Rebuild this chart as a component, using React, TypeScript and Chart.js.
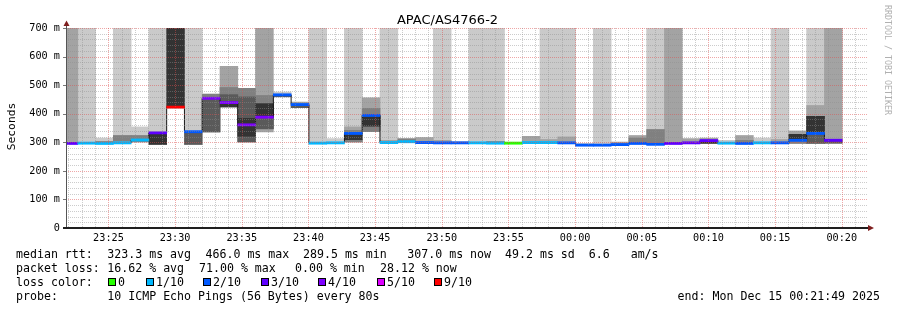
import React, { useEffect, useRef } from 'react';
import { Chart, registerables } from 'chart.js';
Chart.register(...registerables);

type R = [number, number] | null;
const _: R = null;

const TITLE = 'APAC/AS4766-2';
const Y_LABEL = 'Seconds';
const WATERMARK = 'RRDTOOL / TOBI OETIKER';

// time axis: seconds relative to 23:25:00, one step = 80 s (10 pings every 80s)
const STEP_S = 80;
const FIRST_STEP_START_S = -218;
const X_MIN_S = -191;
const X_MAX_S = 3409;
const TICK_SECONDS = [0, 300, 600, 900, 1200, 1500, 1800, 2100, 2400, 2700, 3000, 3300];
const Y_TICKS = [0, 100, 200, 300, 400, 500, 600, 700];

// median RTT per step (ms), steps k = -1 .. 42
const MEDIAN_MS = [
  296, 297, 296, 298, 308, 333, 423, 337, 454, 439, 361,
  388, 466, 432, 297, 298, 331, 394, 299, 302, 299, 298,
  298, 298, 297, 297, 299, 299, 298, 290, 290, 292, 296,
  293, 296, 298, 306, 297, 296, 298, 298, 307, 331, 307,
];
// packet loss per step (tenths)
const LOSS_TENTHS = [
  3, 1, 1, 1, 1, 3, 9, 2, 4, 4, 4,
  4, 2, 2, 1, 1, 2, 2, 1, 1, 2, 2,
  2, 1, 1, 0, 1, 1, 2, 2, 2, 2, 2,
  2, 3, 3, 3, 1, 2, 1, 2, 2, 2, 3,
];
// smoke layers (ms ranges), outermost/lightest first
const SMOKE_1: R[] = [
  _, [297, 700], [300, 316], [300, 700], [300, 355], [333, 700], _, [337, 700], _, _, _,
  _, [458, 477], _, [298, 700], [300, 314], [300, 700], _, [300, 700], _, _, [300, 700],
  _, [298, 700], [298, 700], _, _, [299, 700], [298, 700], _, [290, 700], _, _,
  [293, 700], _, _, _, [297, 308], _, [298, 316], [298, 700], _, [295, 700], _,
];
const SMOKE_2: R[] = [
  [296, 700], _, _, _, _, _, _, _, _, [425, 567], _,
  [335, 700], _, [420, 442], _, _, [300, 355], [336, 457], [300, 308], _, [300, 318], [300, 308],
  [298, 303], _, _, _, [300, 322], [299, 311], [298, 320], [290, 296], _, [292, 302], [296, 325],
  _, [295, 700], [298, 314], [295, 316], _, [296, 325], _, [298, 311], [295, 341], [295, 430], [305, 700],
];
const SMOKE_3: R[] = [
  _, _, [299, 304], [302, 325], [300, 325], _, _, _, [334, 470], [425, 493], [300, 490],
  [346, 465], _, _, _, _, [300, 343], [336, 420], _, [302, 314], _, _,
  _, _, [298, 304], _, _, _, _, _, _, _, [296, 316],
  [296, 346], _, _, _, _, [296, 308], _, _, [295, 329], _, _,
];
const SMOKE_4: R[] = [
  _, _, _, _, _, _, _, [291, 337], [336, 452], [425, 468], [300, 460],
  [346, 436], [458, 466], [420, 432], _, _, _, _, _, _, _, _,
  _, _, _, _, _, _, _, _, _, _, _,
  _, _, _, _, _, _, _, _, _, [295, 392], [295, 307],
];
const SMOKE_5: R[] = [
  _, _, _, _, _, [291, 333], [423, 700], _, _, [422, 439], [320, 385],
  [385, 436], _, _, _, _, [308, 331], [355, 394], _, _, _, _,
  _, _, _, _, _, _, _, _, _, _, _,
  _, _, _, [295, 306], _, _, _, _, [307, 329], [331, 392], _,
];

const LOSS_LEGEND = [0, 1, 2, 3, 4, 5, 9];
const LOSS_LEGEND_LABELS = ['0', '1/10', '2/10', '3/10', '4/10', '5/10', '9/10'];

const STAT_ROW_1: [number, string][] = [
  [16, 'median rtt:'],
  [107.3, '323.3 ms avg'],
  [205.5, '466.0 ms max'],
  [303, '289.5 ms min'],
  [407.3, '307.0 ms now  49.2 ms sd  6.6   am/s'],
];
const STAT_ROW_2: [number, string][] = [
  [16, 'packet loss:'],
  [107.3, '16.62 % avg'],
  [199, '71.00 % max'],
  [295, '0.00 % min'],
  [380, '28.12 % now'],
];
const PROBE_TEXT = '10 ICMP Echo Pings (56 Bytes) every 80s';
const END_TEXT = 'end: Mon Dec 15 00:21:49 2025';

// styles
const LOSS_COLOR: Record<number, string> = {
  0: '#26ff00', 1: '#00b8ff', 2: '#0059ff', 3: '#5e00ff', 4: '#7e00ff', 5: '#dd00ff', 9: '#ff0000',
};
const SMOKE_COLORS = ['#cacaca', '#a3a3a3', '#808080', '#5a5a5a', '#333333'];
const MONO = "'DejaVu Sans Mono', monospace";
const LEGEND_SQUARE_X = [108, 146, 203, 261, 318, 377, 434];

function fmtTime(t: number): string {
  let m = Math.round(23 * 60 + 25 + t / 60);
  m = ((m % 1440) + 1440) % 1440;
  const hh = Math.floor(m / 60);
  const mm = m % 60;
  return `${String(hh).padStart(2, '0')}:${String(mm).padStart(2, '0')}`;
}

const extras = {
  id: 'smokeExtras',
  beforeDraw(chart: any) {
    const ctx = chart.ctx;
    ctx.save();
    ctx.fillStyle = '#ffffff';
    ctx.fillRect(0, 0, chart.width, chart.height);
    ctx.restore();
  },
  afterDatasetsDraw(chart: any) {
    const ctx: CanvasRenderingContext2D = chart.ctx;
    const a = chart.chartArea;
    const xs = chart.scales.x;
    const ys = chart.scales.y;
    ctx.save();
    ctx.lineWidth = 1;
    ctx.setLineDash([1, 1]);
    // horizontal grid
    for (let v = 20; v <= 700; v += 20) {
      const y = Math.round(ys.getPixelForValue(v)) + 0.5;
      ctx.strokeStyle = v % 100 === 0 ? 'rgba(222,80,80,0.5)' : 'rgba(143,143,143,0.45)';
      ctx.beginPath();
      ctx.moveTo(a.left, y);
      ctx.lineTo(a.right + 2, y);
      ctx.stroke();
    }
    // vertical grid
    for (let t = -180; t <= X_MAX_S; t += 60) {
      const x = Math.round(xs.getPixelForValue(t)) + 0.5;
      if (x <= a.left + 1) continue;
      ctx.strokeStyle = t % 300 === 0 ? 'rgba(222,80,80,0.5)' : 'rgba(143,143,143,0.45)';
      ctx.beginPath();
      ctx.moveTo(x, a.top);
      ctx.lineTo(x, a.bottom);
      ctx.stroke();
    }
    ctx.setLineDash([]);
    // y ticks
    ctx.strokeStyle = '#777';
    for (const v of Y_TICKS) {
      const y = Math.round(ys.getPixelForValue(v)) + 0.5;
      ctx.beginPath();
      ctx.moveTo(a.left - 3, y);
      ctx.lineTo(a.left, y);
      ctx.stroke();
    }
    // axes
    ctx.strokeStyle = '#555';
    ctx.beginPath();
    ctx.moveTo(a.left + 0.5, a.bottom);
    ctx.lineTo(a.left + 0.5, a.top - 3);
    ctx.stroke();
    ctx.fillStyle = '#1f1f1f';
    ctx.fillRect(a.left - 3, a.bottom - 1, a.right - a.left + 5, 2);
    // arrows
    ctx.fillStyle = '#7f1f1f';
    ctx.beginPath();
    ctx.moveTo(a.left + 0.5, a.top - 7.5);
    ctx.lineTo(a.left - 2.5, a.top - 2);
    ctx.lineTo(a.left + 3.5, a.top - 2);
    ctx.closePath();
    ctx.fill();
    ctx.beginPath();
    ctx.moveTo(a.right + 8, a.bottom);
    ctx.lineTo(a.right + 2, a.bottom - 3);
    ctx.lineTo(a.right + 2, a.bottom + 3);
    ctx.closePath();
    ctx.fill();
    ctx.restore();
  },
  afterDraw(chart: any) {
    const ctx: CanvasRenderingContext2D = chart.ctx;
    ctx.save();
    ctx.fillStyle = '#000';
    ctx.textBaseline = 'alphabetic';
    // title
    ctx.font = "13px 'DejaVu Sans', sans-serif";
    ctx.textAlign = 'center';
    ctx.fillText(TITLE, 447.5, 24);
    // y label
    ctx.save();
    ctx.font = `11.3px ${MONO}`;
    ctx.translate(15, 126.5);
    ctx.rotate(-Math.PI / 2);
    ctx.textAlign = 'center';
    ctx.fillText(Y_LABEL, 0, 0);
    ctx.restore();
    // watermark
    ctx.save();
    ctx.font = `8.3px ${MONO}`;
    ctx.fillStyle = '#b0b0b0';
    ctx.translate(885, 5);
    ctx.rotate(Math.PI / 2);
    ctx.textAlign = 'left';
    ctx.fillText(WATERMARK, 0, 0);
    ctx.restore();
    // legend rows
    ctx.font = `11.6px ${MONO}`;
    ctx.textAlign = 'left';
    for (const [x, s] of STAT_ROW_1) ctx.fillText(s, x, 257.5);
    for (const [x, s] of STAT_ROW_2) ctx.fillText(s, x, 271.5);
    ctx.fillText('loss color:', 16, 285.5);
    LOSS_LEGEND.forEach((l, i) => {
      const x = LEGEND_SQUARE_X[i];
      ctx.fillStyle = '#000';
      ctx.fillRect(x, 278, 8, 8);
      ctx.fillStyle = LOSS_COLOR[l];
      ctx.fillRect(x + 1, 279, 6, 6);
      ctx.fillStyle = '#000';
      ctx.fillText(LOSS_LEGEND_LABELS[i], x + 10, 285.5);
    });
    ctx.fillText('probe:', 16, 299.5);
    ctx.fillText(PROBE_TEXT, 107.3, 299.5);
    ctx.textAlign = 'right';
    ctx.fillText(END_TEXT, 880, 299.5);
    ctx.restore();
  },
};

export default function App() {
  const ref = useRef<HTMLCanvasElement>(null);
  useEffect(() => {
    document.body.style.margin = '0';
    const centers = MEDIAN_MS.map((_m, i) => FIRST_STEP_START_S + STEP_S * i + STEP_S / 2);
    const layer = (arr: R[], color: string, order: number) => ({
      type: 'bar' as const,
      data: arr
        .map((r, i) => (r ? { x: centers[i], y: r } : null))
        .filter((p) => p !== null),
      backgroundColor: color,
      borderWidth: 0,
      grouped: false,
      barPercentage: 1.04,
      categoryPercentage: 1,
      order,
      clip: 0,
    });
    const smokeSets = [SMOKE_1, SMOKE_2, SMOKE_3, SMOKE_4, SMOKE_5].map((arr, i) =>
      layer(arr, SMOKE_COLORS[i], 10 - i)
    );
    const medianBars = {
      type: 'bar' as const,
      data: MEDIAN_MS.map((m, i) => ({ x: centers[i], y: [m - 5, m + 5] })),
      backgroundColor: LOSS_TENTHS.map((l) => LOSS_COLOR[l]),
      borderWidth: 0,
      grouped: false,
      barPercentage: 1.04,
      categoryPercentage: 1,
      order: 1,
      clip: 0,
    };
    const medianLine = {
      type: 'line' as const,
      data: MEDIAN_MS.map((m, i) => ({ x: centers[i], y: m })),
      stepped: 'middle' as const,
      borderColor: '#1a1a1a',
      borderWidth: 1,
      pointRadius: 0,
      fill: false,
      order: 2,
      clip: 0,
    };
    const tickFont = { family: MONO, size: 10.2 };
    const chart = new Chart(ref.current!, {
      type: 'bar',
      data: { datasets: [...smokeSets, medianLine, medianBars] as any },
      options: {
        responsive: false,
        devicePixelRatio: 1,
        animation: false,
        events: [],
        layout: { padding: { left: 0, right: 31, top: 28, bottom: 0 } },
        plugins: { legend: { display: false }, title: { display: false }, tooltip: { enabled: false } },
        scales: {
          x: {
            type: 'linear',
            min: X_MIN_S,
            max: X_MAX_S,
            offset: false,
            grid: { display: false, drawTicks: false },
            border: { display: false },
            ticks: {
              font: tickFont,
              color: '#000',
              padding: 4,
              maxRotation: 0,
              autoSkip: false,
              callback: (v: any) => fmtTime(Number(v)),
            },
            afterBuildTicks: (s: any) => {
              s.ticks = TICK_SECONDS.map((v) => ({ value: v }));
            },
            afterFit: (s: any) => {
              s.height = 82;
            },
          },
          y: {
            type: 'linear',
            min: 0,
            max: 700,
            grid: { display: false, drawTicks: false },
            border: { display: false },
            ticks: {
              font: tickFont,
              color: '#000',
              padding: 6,
              stepSize: 100,
              callback: (v: any) => (Number(v) === 0 ? '0' : `${v} m`),
            },
            afterBuildTicks: (s: any) => {
              s.ticks = Y_TICKS.map((v) => ({ value: v }));
            },
            afterFit: (s: any) => {
              s.width = 66;
            },
          },
        },
      } as any,
      plugins: [extras],
    });
    return () => chart.destroy();
  }, []);
  return (
    <div style={{ position: 'absolute', left: 0, top: 0, width: 897, height: 310, background: '#fff' }}>
      <canvas ref={ref} width={897} height={310} style={{ display: 'block', width: 897, height: 310 }} />
    </div>
  );
}
